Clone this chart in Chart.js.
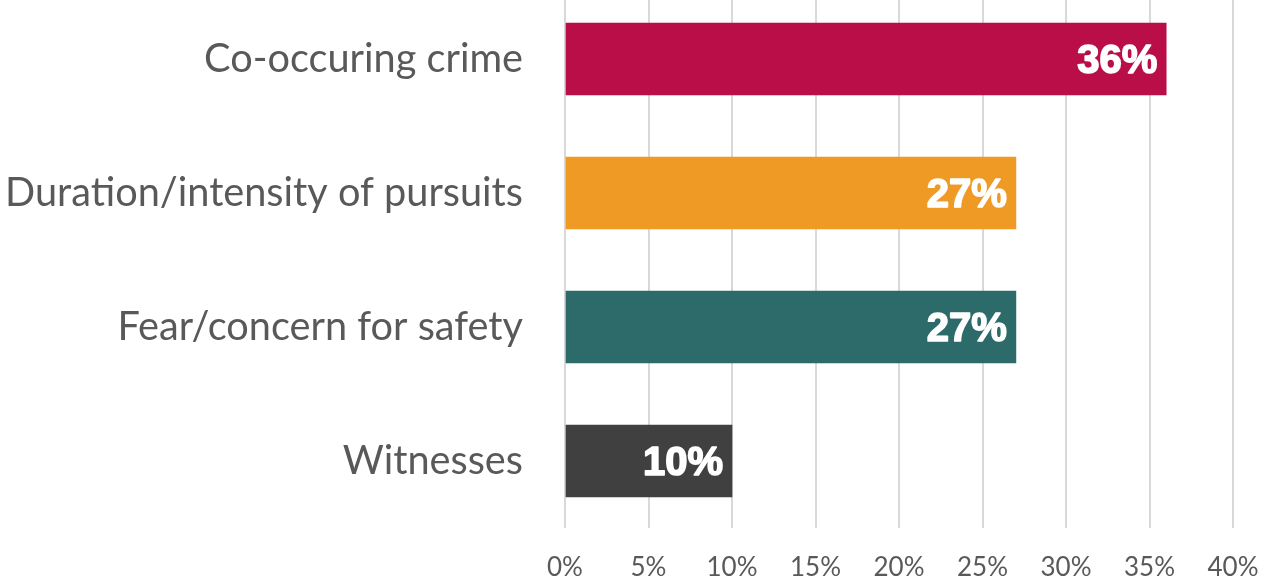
<!DOCTYPE html>
<html><head><meta charset="utf-8">
<script src="https://cdn.jsdelivr.net/npm/chart.js@4.4.1/dist/chart.umd.min.js"></script>
<style>
html,body{margin:0;padding:0;background:#fff;overflow:hidden;width:1264px;height:583px;}
#wrap{position:absolute;left:0;top:-8px;width:1264px;height:591px;}
</style></head>
<body><div id="wrap"><canvas id="c" width="1264" height="591"></canvas></div>
<script>
const categories = ["Co-occuring crime", "Duration/intensity of pursuits", "Fear/concern for safety", "Witnesses"];
const values = [36, 27, 27, 10];
const barColors = ["#B90E48", "#F09A26", "#2D6B6B", "#404040"];
const tickValues = [0, 5, 10, 15, 20, 25, 30, 35, 40];

const valueLabels = {
  id: 'valueLabels',
  afterDatasetsDraw(chart) {
    const ctx = chart.ctx;
    const meta = chart.getDatasetMeta(0);
    ctx.save();
    ctx.font = 'bold 40px "Liberation Sans", Arial, sans-serif';
    ctx.fillStyle = '#ffffff';
    ctx.strokeStyle = '#ffffff';
    ctx.lineWidth = 1.6;
    ctx.lineJoin = 'round';
    ctx.textAlign = 'right';
    ctx.textBaseline = 'middle';
    meta.data.forEach((bar, i) => {
      const t = values[i] + '%';
      ctx.fillText(t, bar.x - 9, bar.y + 3);
      ctx.strokeText(t, bar.x - 9, bar.y + 3);
    });
    ctx.restore();
  }
};

new Chart(document.getElementById('c'), {
  type: 'bar',
  data: {
    labels: categories,
    datasets: [{ data: values, backgroundColor: barColors, barThickness: 72, borderWidth: 0 }]
  },
  options: {
    indexAxis: 'y',
    responsive: false,
    animation: false,
    layout: { padding: { left: 0, right: 31, top: 0, bottom: 0 } },
    plugins: { legend: { display: false }, tooltip: { enabled: false } },
    scales: {
      x: {
        min: 0, max: 40,
        afterBuildTicks(scale) { scale.ticks = tickValues.map(v => ({ value: v })); },
        afterFit(scale) { scale.height = 55; scale.paddingLeft = 0; scale.paddingRight = 0; },
        ticks: {
          callback: v => v + '%',
          color: '#595959',
          font: { family: 'Lato', size: 26 },
          padding: 24,
          maxRotation: 0
        },
        grid: { color: '#d9d9d9', lineWidth: 2, drawTicks: false },
        border: { display: false }
      },
      y: {
        afterFit(scale) { scale.width = 565; scale.paddingTop = 0; scale.paddingBottom = 0; },
        ticks: {
          color: '#595959',
          font: { family: 'Lato', size: 39.7 },
          padding: 42
        },
        grid: { display: false, drawTicks: false },
        border: { display: false }
      }
    }
  },
  plugins: [valueLabels]
});
</script></body></html>
